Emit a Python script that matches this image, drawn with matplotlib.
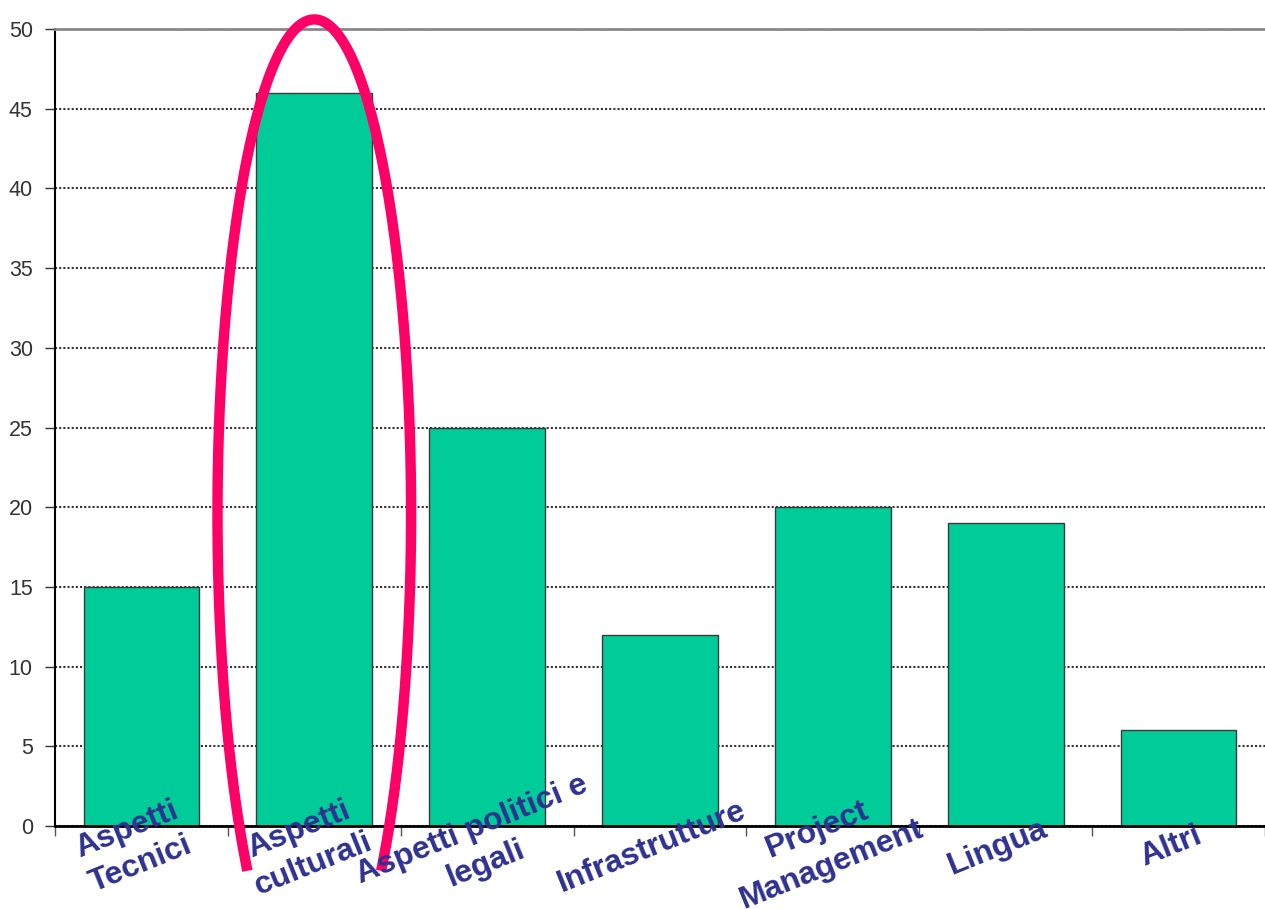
import matplotlib.pyplot as plt
import matplotlib.transforms as mtransforms
import numpy as np

categories = ["Aspetti\nTecnici", "Aspetti\nculturali", "Aspetti politici e\nlegali",
              "Infrastrutture", "Project\nManagement", "Lingua", "Altri"]
values = [15, 46, 25, 12, 20, 19, 6]
yticks = [0, 5, 10, 15, 20, 25, 30, 35, 40, 45, 50]

bar_color = "#00CC99"
label_color = "#2E3191"
ring_color = "#FF0066"

fig = plt.figure(figsize=(12.65, 9.09), dpi=100)
ax = fig.add_axes([55/1265, 83/909, 1 - 55/1265, 797/909])

x = np.arange(len(categories))
ax.bar(x, values, width=0.67, color=bar_color, edgecolor="#3a3a3a", linewidth=1.0, zorder=2)

ax.set_xlim(-0.5, -0.5 + (1265 - 55) / 175)
ax.set_ylim(0, 50)

ax.set_yticks(yticks)
ax.set_yticklabels([str(v) for v in yticks], fontsize=15.5, color="#333333",
                   family=["Liberation Sans Narrow", "Liberation Sans", "DejaVu Sans"])
ax.tick_params(axis="y", direction="out", length=7, width=1, color="#333333", pad=9)

ax.set_xticks(np.r_[-0.5, x + 0.5])
ax.set_xticklabels([])
ax.tick_params(axis="x", direction="out", length=7, width=1, color="#555555")

ax.yaxis.grid(True, linestyle=(0, (1, 1)), color="#333333", linewidth=1.5)
ax.set_axisbelow(True)

ax.spines["right"].set_visible(False)
ax.spines["top"].set_color("#888888")
ax.spines["top"].set_linewidth(2)
ax.spines["left"].set_linewidth(1.5)
ax.spines["bottom"].set_linewidth(2)

# category labels, rotated under the bars
offset = mtransforms.ScaledTranslation(-8/100, -21/100, fig.dpi_scale_trans)
trans = mtransforms.blended_transform_factory(ax.transData, ax.transAxes) + offset
for i, lab in enumerate(categories):
    ax.text(i, 0, lab, transform=trans, rotation=22, rotation_mode="anchor",
            ha="center", va="center", multialignment="center",
            fontsize=23, fontweight="bold", color=label_color,
            family=["Liberation Sans", "DejaVu Sans"], linespacing=1.3, zorder=5)

# highlight ring around "Aspetti culturali"
t = np.radians(np.linspace(-46.3, 226.3, 400))
cx, cy, a, b = 1.0, 19.6, 0.56, 31.0
ax.plot(cx + a * np.cos(t), cy + b * np.sin(t), color=ring_color, linewidth=7.5,
        solid_capstyle="butt", clip_on=False, zorder=4)

fig.savefig("out.png", dpi=100)
